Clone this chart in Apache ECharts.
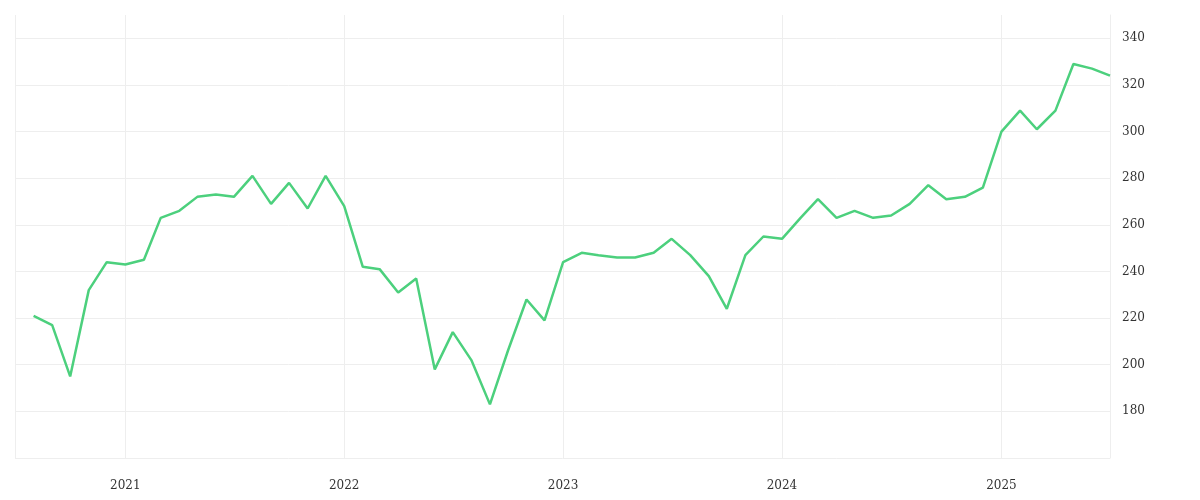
<!DOCTYPE html><html><head><meta charset="utf-8"><script src="https://cdn.jsdelivr.net/npm/echarts@6/dist/echarts.min.js"></script>
<style>html,body{margin:0;background:#fff}#c{width:1200px;height:500px}</style></head><body><div id="c"></div><script>
const months=[];for(let i=0;i<60;i++){const d=new Date(Date.UTC(2020,7+i,1));months.push(d.toISOString().slice(0,10));}
const values=[221,217,195,232,244,243,245,263,266,272,273,272,281,269,278,267,281,268,242,241,231,237,198,214,202,183,206,228,219,244,248,247,246,246,248,254,247,238,224,247,255,254,263,271,263,266,263,264,269,277,271,272,276,300,309,301,309,329,327,324];
const chart=echarts.init(document.getElementById('c'));
const yLines=['#eee','#eee','#eee','#eee','#eee','#eee','#eee','#eee','#eee','#eee','rgba(0,0,0,0)'];
chart.setOption({animation:false,
grid:{left:15,right:90,top:15,bottom:42},
xAxis:{type:'time',min:'2020-07-01',max:'2025-07-01',splitNumber:5,
axisLine:{show:false},axisTick:{show:false},
axisLabel:{color:'#333',fontFamily:'DejaVu Serif',fontSize:12,margin:22,formatter:v=>{const d=new Date(v);return d.getUTCMonth()===0?String(d.getUTCFullYear()):'';}},
splitLine:{show:true,lineStyle:{color:'#eee'}}},
yAxis:{type:'value',position:'right',min:160,max:350,interval:20,
axisLine:{show:true,lineStyle:{color:'#eee'}},axisTick:{show:false},
axisLabel:{color:'#333',fontFamily:'DejaVu Serif',fontSize:12,margin:12,showMinLabel:false,showMaxLabel:false},
splitLine:{lineStyle:{color:yLines}}},
series:[{type:'line',data:months.map((m,i)=>[m,values[i]]),showSymbol:false,lineStyle:{color:'#4cd07d',width:2.5},itemStyle:{color:'#4cd07d'}}]});
</script></body></html>
